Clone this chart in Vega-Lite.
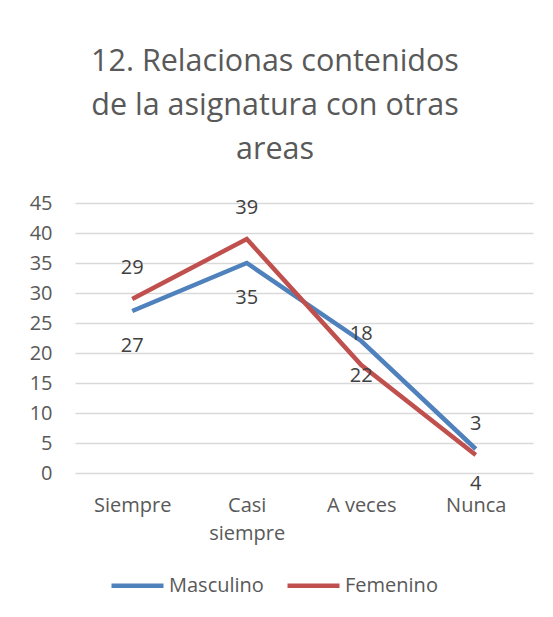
{
  "$schema": "https://vega.github.io/schema/vega-lite/v6.json",
  "autosize": {"type": "none"},
  "width": 458,
  "height": 270,
  "padding": {"left": 75, "top": 203, "right": 20, "bottom": 144},
  "background": "white",
  "config": {
    "font": "Open Sans",
    "view": {"stroke": null}
  },
  "title": {
    "text": ["12. Relacionas contenidos", "de la asignatura con otras", "areas"],
    "fontSize": 30.5,
    "fontWeight": "normal",
    "color": "#595959",
    "lineHeight": 44,
    "anchor": "middle",
    "frame": "group",
    "dx": -29,
    "offset": 28
  },
  "data": {
    "values": [
      {"categoria": "Siempre", "serie": "Masculino", "valor": 27},
      {"categoria": "Casi siempre", "serie": "Masculino", "valor": 35},
      {"categoria": "A veces", "serie": "Masculino", "valor": 22},
      {"categoria": "Nunca", "serie": "Masculino", "valor": 4},
      {"categoria": "Siempre", "serie": "Femenino", "valor": 29},
      {"categoria": "Casi siempre", "serie": "Femenino", "valor": 39},
      {"categoria": "A veces", "serie": "Femenino", "valor": 18},
      {"categoria": "Nunca", "serie": "Femenino", "valor": 3}
    ]
  },
  "encoding": {
    "x": {
      "field": "categoria",
      "type": "nominal",
      "sort": ["Siempre", "Casi siempre", "A veces", "Nunca"],
      "scale": {"type": "point", "padding": 0.5},
      "axis": {
        "title": null,
        "labelAngle": 0,
        "labelFontSize": 20,
        "labelColor": "#595959",
        "labelPadding": 22,
        "labelLineHeight": 28,
        "labelExpr": "datum.label == 'Casi siempre' ? ['Casi', 'siempre'] : datum.label",
        "ticks": false,
        "tickSize": 0,
        "domain": false,
        "grid": false
      }
    },
    "y": {
      "field": "valor",
      "type": "quantitative",
      "scale": {"domain": [0, 45], "nice": false},
      "axis": {
        "title": null,
        "values": [0, 5, 10, 15, 20, 25, 30, 35, 40, 45],
        "labelFontSize": 20,
        "labelColor": "#595959",
        "labelPadding": 23,
        "ticks": false,
        "tickSize": 0,
        "domain": false,
        "grid": true,
        "gridColor": "#d9d9d9",
        "gridWidth": 1.3
      }
    }
  },
  "layer": [
    {
      "mark": {"type": "line", "strokeWidth": 4.5, "strokeJoin": "miter"},
      "encoding": {
        "color": {
          "field": "serie",
          "type": "nominal",
          "sort": ["Masculino", "Femenino"],
          "scale": {"domain": ["Masculino", "Femenino"], "range": ["#4f81bd", "#c0504d"]},
          "legend": {
            "title": null,
            "orient": "none",
            "direction": "horizontal",
            "legendX": 34,
            "legendY": 354,
            "symbolType": "stroke",
            "symbolSize": 2704,
            "symbolStrokeWidth": 4.5,
            "labelFontSize": 20,
            "labelColor": "#595959",
            "labelOffset": 3,
            "columnPadding": 14
          }
        }
      }
    },
    {
      "transform": [{"filter": "datum.serie == 'Femenino'"}],
      "mark": {"type": "text", "dy": -31, "fontSize": 20, "color": "#404040", "baseline": "middle"},
      "encoding": {"text": {"field": "valor", "type": "quantitative"}}
    },
    {
      "transform": [{"filter": "datum.serie == 'Masculino'"}],
      "mark": {"type": "text", "dy": 35, "fontSize": 20, "color": "#404040", "baseline": "middle"},
      "encoding": {"text": {"field": "valor", "type": "quantitative"}}
    }
  ]
}
